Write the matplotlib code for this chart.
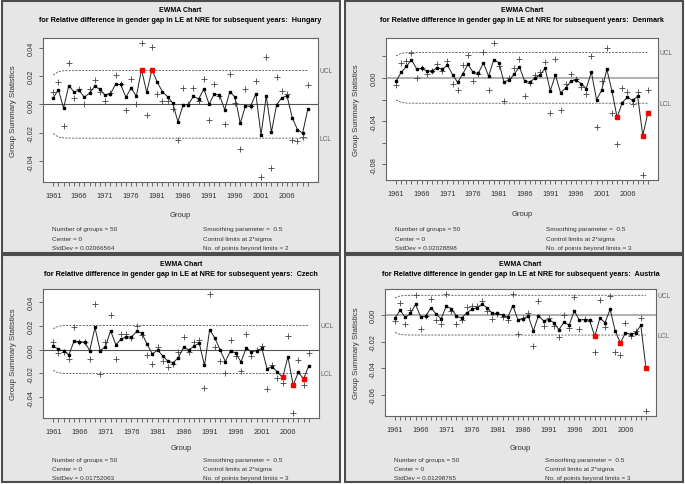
import matplotlib
matplotlib.use("Agg")
import numpy as np
import matplotlib.pyplot as plt
from matplotlib.patches import Rectangle

W, H = 685, 485

# groups (years) and the observed values (the "+" marks) per country
years = list(range(1961, 2011))

hungary = [0.009, 0.016, -0.0155, 0.029, 0.0043, 0.011, 0.0, 0.011, 0.0174, 0.0086,
           0.002, 0.0083, 0.0207, 0.014, -0.004, 0.018, 0.0, 0.043, -0.0076, 0.0405,
           0.0074, 0.002, 0.002, -0.0036, -0.0255, 0.0114, 0.0, 0.0114, 0.002, 0.018,
           -0.0107, 0.0145, 0.0057, -0.014, 0.0217, 0.001, -0.0317, 0.011, -0.0014, 0.0164,
           -0.051, 0.0336, -0.045, 0.019, 0.0095, 0.0074, -0.025, -0.026, -0.023, 0.0138]

denmark = [-0.0062, 0.0135, 0.016, 0.0228, 0.0, 0.0092, 0.0037, 0.0065, 0.0126, 0.0065,
           0.0154, -0.0058, -0.0114, 0.0123, 0.021, -0.0025, 0.0034, 0.0237, -0.011, 0.032,
           0.0114, -0.0218, 0.0, 0.0089, 0.0172, -0.0163, -0.0049, 0.0031, 0.0058, 0.0148,
           -0.0326, 0.0172, -0.030, -0.0052, 0.0034, -0.0009, -0.0086, -0.0145, 0.0206, -0.0458,
           -0.0028, 0.0274, -0.032, -0.061, -0.0092, -0.0129, -0.0237, -0.0132, -0.0895, -0.0111]

czech = [0.0059, -0.0028, -0.0025, -0.0079, 0.019, 0.0059, 0.0059, -0.0079, 0.038, -0.0208,
         0.0059, 0.029, -0.0076, 0.013, 0.013, 0.0099, 0.020, 0.0121, -0.0048, -0.0118,
         0.0025, -0.0099, -0.0144, -0.0124, -0.0025, 0.0104, -0.0025, 0.0059, 0.0079, -0.0321,
         0.0468, 0.0023, -0.0099, -0.020, 0.0082, -0.0054, -0.0177, 0.013, -0.0051, 0.0,
         0.0028, -0.0332, -0.0127, -0.0237, -0.0279, 0.0113, -0.0535, -0.0087, -0.0299, -0.0028]

austria = [-0.0042, 0.0095, -0.007, 0.0042, 0.015, -0.0105, -0.0005, 0.0122, -0.0038, -0.0065,
           0.0162, 0.0032, -0.0065, -0.0035, 0.0058, 0.0068, 0.007, 0.0108, 0.0028, -0.0028,
           0.0012, -0.001, -0.0035, 0.0162, -0.0143, -0.0022, 0.0018, -0.0233, 0.011, -0.0078,
           -0.0025, -0.0078, -0.0163, 0.0005, -0.0098, 0.014, -0.0108, -0.0028, -0.0047, -0.0278,
           0.0112, -0.0088, 0.0142, -0.028, -0.030, -0.0058, -0.0155, -0.0122, -0.0018, -0.0725]

countries = ["Hungary", "Denmark", "Czech", "Austria"]
series = [hungary, denmark, czech, austria]
stddevs = ["0.02066564", "0.02028898", "0.01752063", "0.01298765"]
beyond = [2, 3, 3, 3]
lam = 0.5
nsig = 2

yticks = [[0.04, 0.02, 0.0, -0.02, -0.04],
          [0.02, 0.0, -0.02, -0.04, -0.06, -0.08],
          [0.04, 0.02, 0.0, -0.02, -0.04],
          [0.0, -0.02, -0.04, -0.06]]
ylabels = [["0.04", "0.02", "0.00", "-0.02", "-0.04"],
           ["", "0.00", "", "-0.04", "", "-0.08"],
           ["0.04", "0.02", "0.00", "-0.02", "-0.04"],
           ["0.00", "-0.02", "-0.04", "-0.06"]]

# layout in pixels: panel frame, plot box, y of (group label, stats line 1), line step
panels = [(2, 2, 340, 254), (345, 2, 683, 254), (2, 256, 340, 483), (345, 256, 683, 483)]
boxes = [(43, 39, 318, 183), (386, 39, 658, 181), (43, 290, 319, 419), (385, 290, 656, 417)]
text_y = [(216, 230, 9.3), (215, 230, 9.3), (448, 460.5, 8.8), (448, 460.5, 8.8)]
center_col = ["#555555", "#9a9a9a", "#555555", "#9a9a9a"]

plt.rcParams["font.family"] = ["Liberation Sans", "DejaVu Sans"]
plt.rcParams["axes.unicode_minus"] = False


def fx(x):
    return x / W


def fy(y):
    return 1 - y / H


fig = plt.figure(figsize=(W / 100, H / 100), dpi=100)

for k in range(4):
    px0, py0, px1, py1 = panels[k]
    fig.patches.append(Rectangle((fx(px0), fy(py1)), fx(px1 - px0), (py1 - py0) / H,
                                 transform=fig.transFigure, facecolor="#e6e6e6",
                                 edgecolor="#4d4d4d", lw=1.5, zorder=-5))
    x0, y0, x1, y1 = boxes[k]
    ax = fig.add_axes([fx(x0), fy(y1), fx(x1 - x0), (y1 - y0) / H])
    ax.set_zorder(2)
    ax.set_facecolor("white")

    x = np.array(series[k])
    idx = np.arange(1, len(x) + 1)
    z = np.zeros(len(x))
    prev = 0.0
    for i in range(len(x)):
        prev = lam * x[i] + (1 - lam) * prev
        z[i] = prev
    sd = float(stddevs[k])
    lim = nsig * sd * np.sqrt(lam / (2 - lam) * (1 - (1 - lam) ** (2 * idx)))
    out = (z > lim) | (z < -lim)

    ax.axhline(0, color=center_col[k], lw=1.1 if k % 2 else 0.8, zorder=1)
    ax.plot(idx, lim, ls=(0, (2.5, 1.5)), color="#555555", lw=0.6)
    ax.plot(idx, -lim, ls=(0, (2.5, 1.5)), color="#555555", lw=0.6)
    ax.plot(idx, x, ls="none", marker="+", ms=4.5, mew=0.6, color="#444444")
    ax.plot(idx, z, color="#222222", lw=0.7, marker="s", ms=1.6, mfc="black", mec="black")
    ax.plot(idx[out], z[out], ls="none", marker="s", ms=2.2, color="red")

    ax.margins(x=0.04, y=0.04)
    ax.set_xticks(idx)
    ax.set_xticklabels([str(y) if (y - 1961) % 5 == 0 else "" for y in years])
    ax.set_yticks(yticks[k])
    ax.set_yticklabels(ylabels[k], rotation=90, va="center")
    ax.tick_params(axis="x", length=3.2, width=0.5, pad=4.0, labelsize=5.3,
                   colors="#333333")
    ax.tick_params(axis="y", length=3.2, width=0.5, pad=3.0, labelsize=5.3,
                   colors="#333333")
    for s in ax.spines.values():
        s.set_color("#666666")
        s.set_linewidth(0.8)

    ax.text(1.005, lim[-1], "UCL", transform=ax.get_yaxis_transform(), fontsize=4.8,
            color="#666666", va="center", ha="left", clip_on=False)
    ax.text(1.005, -lim[-1], "LCL", transform=ax.get_yaxis_transform(), fontsize=4.8,
            color="#666666", va="center", ha="left", clip_on=False)

    cx = fx((x0 + x1) / 2)
    fig.text(cx, fy(py0 + 9), "EWMA Chart", ha="center", va="center",
             fontsize=5.0, fontweight="bold")
    fig.text(cx, fy(py0 + 18),
             "for Relative difference in gender gap in LE at NRE for subsequent years:  "
             + countries[k], ha="center", va="center", fontsize=5.2, fontweight="bold")
    fig.text(cx, fy(text_y[k][0]), "Group", ha="center", va="center", fontsize=5.5,
             color="#333333")
    fig.text(fx(x0 - 29), fy((y0 + y1) / 2), "Group Summary Statistics", rotation=90,
             ha="center", va="center", fontsize=5.7, color="#333333")

    left = ["Number of groups = 50", "Center = 0", "StdDev = " + stddevs[k]]
    right = ["Smoothing parameter =  0.5", "Control limits at 2*sigma",
             "No. of points beyond limits = %d" % beyond[k]]
    for j in range(3):
        ty = fy(text_y[k][1] + text_y[k][2] * j)
        fig.text(fx(x0 + 9), ty, left[j], ha="left", va="center", fontsize=4.6,
                 color="#333333")
        fig.text(fx(x0 + 160), ty, right[j], ha="left", va="center", fontsize=4.6,
                 color="#333333")

fig.savefig("out.png", dpi=100, facecolor="white")
